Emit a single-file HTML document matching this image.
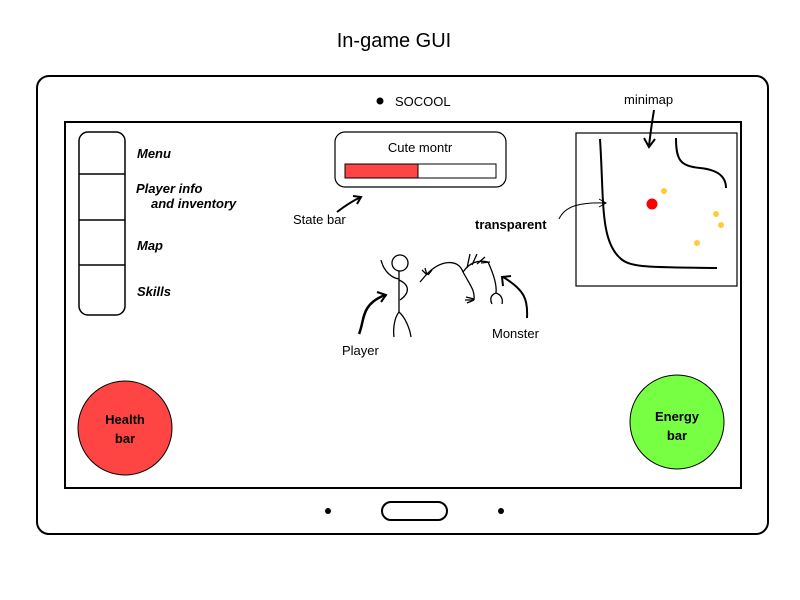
<!DOCTYPE html>
<html><head><meta charset="utf-8"><style>
body{margin:0;background:#fff;}
svg{display:block;font-family:"Liberation Sans",sans-serif;}
</style></head><body>
<svg width="800" height="600" viewBox="0 0 800 600" xmlns="http://www.w3.org/2000/svg">
<text x="394" y="47" font-size="20" text-anchor="middle">In-game GUI</text>
<rect x="37" y="76" width="731" height="458" rx="12" fill="none" stroke="#000" stroke-width="2"/>
<rect x="65" y="122" width="676" height="366" fill="none" stroke="#000" stroke-width="2"/>
<circle cx="380" cy="101" r="3.5"/>
<text x="395" y="106" font-size="13">SOCOOL</text>
<circle cx="328" cy="511" r="3"/><circle cx="501" cy="511" r="3"/>
<rect x="382" y="502" width="65" height="18" rx="9" fill="none" stroke="#000" stroke-width="2"/>
<!-- menu -->
<rect x="79" y="132" width="46" height="183" rx="9" fill="none" stroke="#000" stroke-width="1.5"/>
<line x1="79" y1="174" x2="125" y2="174" stroke="#000" stroke-width="1.5"/>
<line x1="79" y1="220" x2="125" y2="220" stroke="#000" stroke-width="1.5"/>
<line x1="79" y1="265" x2="125" y2="265" stroke="#000" stroke-width="1.5"/>
<g font-size="13" font-weight="bold" font-style="italic">
<text x="137" y="158">Menu</text>
<text x="136" y="193">Player info</text>
<text x="151" y="208">and inventory</text>
<text x="137" y="250">Map</text>
<text x="137" y="296">Skills</text>
</g>
<!-- state bar -->
<rect x="335" y="132" width="171" height="55" rx="10" fill="none" stroke="#000" stroke-width="1.2"/>
<text x="420" y="152" font-size="13" text-anchor="middle">Cute montr</text>
<rect x="345" y="164" width="151" height="14" fill="#fff" stroke="#000"/>
<rect x="345" y="164" width="73" height="14" fill="#f44" stroke="#000"/>
<text x="293" y="224" font-size="13">State bar</text>
<path d="M337 212 Q350 202 361 197" fill="none" stroke="#000" stroke-width="2"/>
<path d="M353 196 L361 197 L357 204" fill="none" stroke="#000" stroke-width="2"/>
<!-- minimap -->
<rect x="576" y="133" width="161" height="153" fill="none" stroke="#000" stroke-width="1.2"/>
<path d="M600 139 C604 200,600 240,620 258 C630 268,650 267,717 268" fill="none" stroke="#000" stroke-width="2"/>
<path d="M676 138 C676 160,680 166,700 168 C720 170,726 178,726 188" fill="none" stroke="#000" stroke-width="2"/>
<circle cx="652" cy="204" r="5.5" fill="#f00"/>
<circle cx="664" cy="191" r="3" fill="#fc3"/>
<circle cx="716" cy="214" r="3" fill="#fc3"/>
<circle cx="721" cy="225" r="3" fill="#fc3"/>
<circle cx="697" cy="243" r="3" fill="#fc3"/>
<text x="624" y="104" font-size="13">minimap</text>
<path d="M654 110 Q651 128 649 146" fill="none" stroke="#000" stroke-width="2"/>
<path d="M644 138 L649 147 L655 139" fill="none" stroke="#000" stroke-width="2"/>
<text x="475" y="229" font-size="13" font-weight="bold">transparent</text>
<path d="M559 219 C565 206,580 202,606 203" fill="none" stroke="#000"/>
<path d="M599 199 L606 203 L599 207" fill="none" stroke="#000"/>
<!-- player -->
<g fill="none" stroke="#000" stroke-width="1.3">
<circle cx="400" cy="263" r="8"/>
<path d="M399 271 L399 312"/>
<path d="M381 260 C384 272,392 278,399 279"/>
<path d="M399 280 C410 285,410 293,400 300"/>
<path d="M399 312 C394 318,393 330,394 337"/>
<path d="M399 312 C406 318,410 330,411 337"/>
<!-- monster -->
<path d="M426 275 C440 260,458 258,463 272 C470 285,475 290,474 300"/>
<path d="M463 272 C470 262,478 260,488 262"/>
<path d="M467 268 L470 254 M472 265 L477 254 M477 264 L485 257 M481 263 L490 262"/>
<path d="M427 275 L422 270 M427 275 L425 268 M428 275 L432 270 M426 275 L420 282"/>
<path d="M474 300 L465 300 M474 300 L467 303 M474 299 L466 297"/>
<path d="M488 262 C494 275,497 285,496 293 C490 295,490 300,492 304 M496 293 C502 295,503 300,502 304"/>
</g>
<!-- arrows -->
<path d="M359 334 C365 320,360 305,385 295" fill="none" stroke="#000" stroke-width="2.5"/>
<path d="M377 292 L386 295 L381 302" fill="none" stroke="#000" stroke-width="2"/>
<text x="342" y="355" font-size="13">Player</text>
<path d="M527 318 C528 300,525 290,503 277" fill="none" stroke="#000" stroke-width="2"/>
<path d="M503 286 L502 277 L511 276" fill="none" stroke="#000" stroke-width="2"/>
<text x="492" y="338" font-size="13">Monster</text>
<!-- circles -->
<circle cx="125" cy="428" r="47" fill="#f44" stroke="#000"/>
<text x="125" y="424" font-size="13" font-weight="bold" text-anchor="middle">Health</text>
<text x="125" y="443" font-size="13" font-weight="bold" text-anchor="middle">bar</text>
<circle cx="677" cy="422" r="47" fill="#7f4" stroke="#000"/>
<text x="677" y="421" font-size="13" font-weight="bold" text-anchor="middle">Energy</text>
<text x="677" y="440" font-size="13" font-weight="bold" text-anchor="middle">bar</text>
</svg>
</body></html>
